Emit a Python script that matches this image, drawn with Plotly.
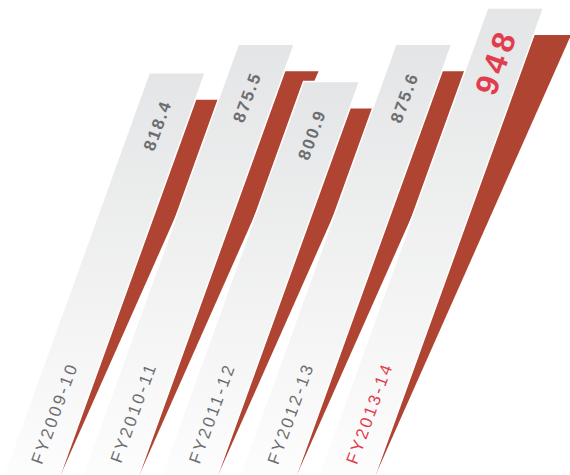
import plotly.graph_objects as go

# ---- data ----
categories = ["FY2009-10", "FY2010-11", "FY2011-12", "FY2012-13", "FY2013-14"]
values = [818.4, 875.5, 800.9, 875.6, 948]
value_labels = ["818.4", "875.5", "800.9", "875.6", "948"]

# ---- style / geometry ----
GRAY_SLOPE = 0.1805      # x shift per value unit (slant of the gray bars)
RED_SLOPE = 0.222        # slant of the red shadow's outer edge
BAR_W = 56               # horizontal width of the gray bars
X0 = 1.5                 # x of first bar's left edge at value 0
STEP = 78.75             # spacing between bars
RED_DROP = 54            # red top below gray top (value units)
LABEL_DROP = 106
CAT_POS = 138

RED = "#ae4431"
GRAY_TXT = "#6d6e71"
HILITE = "#e23c4f"

fig = go.Figure()


def left(i, v):
    return X0 + STEP * i + GRAY_SLOPE * v


annotations = []
for i, (cat, v, lab) in enumerate(zip(categories, values, value_labels)):
    vr = v - RED_DROP
    r0 = left(i, 0) + BAR_W
    # red shadow (behind the gray bar)
    fig.add_trace(go.Scatter(
        x=[r0, r0 + RED_SLOPE * vr, left(i, vr) + BAR_W / 2, left(i, 0) + BAR_W / 2, r0],
        y=[0, vr, vr, 0, 0],
        fill="toself", mode="lines", line=dict(width=0, color=RED),
        fillcolor=RED, hoverinfo="skip", showlegend=False))
    # gray slanted bar
    fig.add_trace(go.Scatter(
        x=[left(i, 0), left(i, 0) + BAR_W, left(i, v) + BAR_W, left(i, v), left(i, 0)],
        y=[0, 0, v, v, 0],
        fill="toself", mode="lines", line=dict(width=1.5, color="white"),
        fillgradient=dict(type="vertical", start=0, stop=v,
                          colorscale=[[0, "#fdfdfd"], [1, "#e4e5e6"]]),
        hoverinfo="skip", showlegend=False))

    last = i == len(categories) - 1
    # value label
    if last:
        vtxt = '<span style="letter-spacing:5px">' + lab + '</span>'
        vfont = dict(family="Liberation Sans", size=32, color=HILITE, weight="bold")
    else:
        vtxt = '<span style="letter-spacing:2px">' + lab + '</span>'
        vfont = dict(family="Liberation Sans", size=17, color=GRAY_TXT, weight="bold")
    ly = v - LABEL_DROP
    annotations.append(dict(
        x=left(i, ly) + BAR_W / 2, y=ly, xref="x", yref="y",
        text=vtxt, showarrow=False, textangle=-70, font=vfont,
        xanchor="center", yanchor="middle"))
    # category label
    annotations.append(dict(
        x=left(i, CAT_POS) + BAR_W / 2, y=CAT_POS, xref="x", yref="y",
        text='<span style="letter-spacing:2.5px">' + cat + '</span>',
        showarrow=False, textangle=-70,
        font=dict(family="Liberation Sans", size=17,
                  color=HILITE if last else GRAY_TXT),
        xanchor="center", yanchor="middle"))

fig.update_layout(
    width=570, height=475,
    margin=dict(l=0, r=0, t=0, b=0),
    paper_bgcolor="white", plot_bgcolor="white",
    xaxis=dict(range=[0, 570], visible=False, fixedrange=True),
    yaxis=dict(range=[14, 964], visible=False, fixedrange=True),
    annotations=annotations,
    showlegend=False,
)

fig.write_html("out.html", config={"displayModeBar": False},
               post_script="document.body.style.margin='0';document.body.style.overflow='hidden';")
